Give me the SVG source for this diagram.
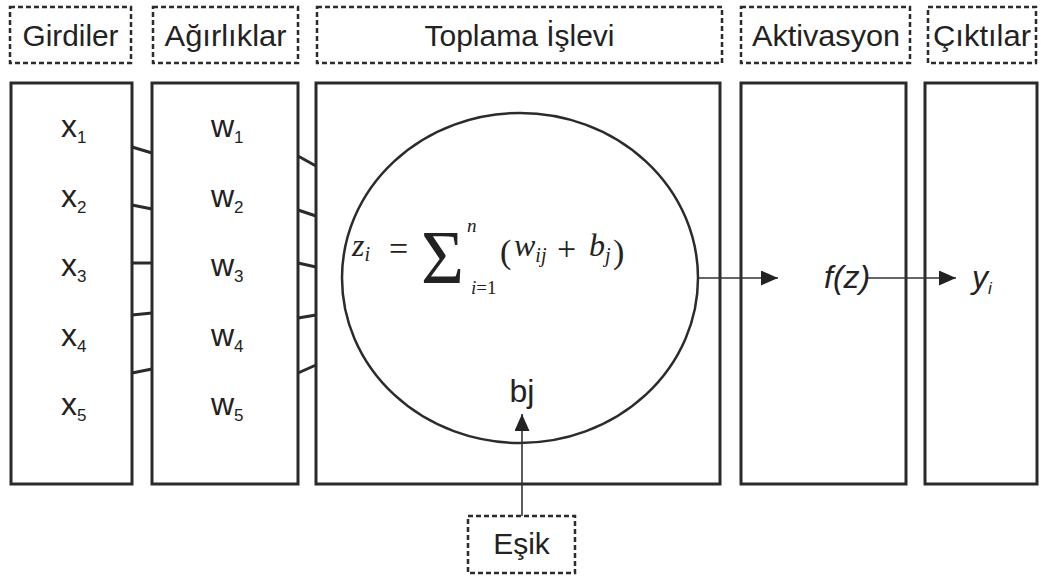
<svg xmlns="http://www.w3.org/2000/svg" width="1041" height="579" viewBox="0 0 1041 579">
<style>
.title{fill:none;stroke:#2b2b2b;stroke-width:2.5;stroke-dasharray:5 3}
.box{fill:none;stroke:#2b2b2b;stroke-width:3}
.lbl{font-family:"Liberation Sans",Arial,sans-serif;fill:#222;font-size:30px}
.var{font-family:"Liberation Sans",Arial,sans-serif;fill:#222;font-size:32px}
.sub{font-size:17px}
.conn{stroke:#2b2b2b;stroke-width:3;fill:none}
.arr{stroke:#333;stroke-width:1.6;fill:none}
.math{font-family:"Liberation Serif","DejaVu Serif",serif;fill:#222;font-style:italic}
.mr{font-family:"Liberation Serif","DejaVu Serif",serif;fill:#222}
</style>
<defs>
<marker id="ah" viewBox="0 0 17 15" refX="17" refY="7.5" markerWidth="17" markerHeight="15" markerUnits="userSpaceOnUse" orient="auto">
<path d="M0,0 L17,7.5 L0,15 Z" fill="#222"/>
</marker>
</defs>
<rect width="1041" height="579" fill="#fff"/>

<g id="title-girdiler"><rect class="title" x="10" y="7" width="121" height="56"/><text class="lbl" x="70.5" y="46" text-anchor="middle" textLength="96" lengthAdjust="spacingAndGlyphs">Girdiler</text></g>
<g id="title-agirliklar"><rect class="title" x="153" y="7" width="145" height="56"/><text class="lbl" x="225.5" y="46" text-anchor="middle" textLength="122" lengthAdjust="spacingAndGlyphs">Ağırlıklar</text></g>
<g id="title-toplama"><rect class="title" x="317" y="7" width="405" height="56"/><text class="lbl" x="519.5" y="46" text-anchor="middle" textLength="190" lengthAdjust="spacingAndGlyphs">Toplama İşlevi</text></g>
<g id="title-aktivasyon"><rect class="title" x="741" y="7" width="169" height="56"/><text class="lbl" x="826" y="46" text-anchor="middle" textLength="148" lengthAdjust="spacingAndGlyphs">Aktivasyon</text></g>
<g id="title-ciktilar"><rect class="title" x="928" y="7" width="108" height="56"/><text class="lbl" x="982" y="46" text-anchor="middle" textLength="98" lengthAdjust="spacingAndGlyphs">Çıktılar</text></g>

<g id="girdiler">
<rect class="box" x="11" y="83" width="121" height="401"/>
<text class="var" x="61" y="137">x<tspan class="sub" dy="6">1</tspan></text>
<text class="var" x="61" y="207">x<tspan class="sub" dy="6">2</tspan></text>
<text class="var" x="61" y="276">x<tspan class="sub" dy="6">3</tspan></text>
<text class="var" x="61" y="346">x<tspan class="sub" dy="6">4</tspan></text>
<text class="var" x="61" y="415">x<tspan class="sub" dy="6">5</tspan></text>
</g>
<g id="agirliklar">
<rect class="box" x="152" y="83" width="146" height="401"/>
<text class="var" x="211" y="137">w<tspan class="sub" dy="6">1</tspan></text>
<text class="var" x="211" y="207">w<tspan class="sub" dy="6">2</tspan></text>
<text class="var" x="211" y="276">w<tspan class="sub" dy="6">3</tspan></text>
<text class="var" x="211" y="346">w<tspan class="sub" dy="6">4</tspan></text>
<text class="var" x="211" y="415">w<tspan class="sub" dy="6">5</tspan></text>
</g>
<g id="toplama">
<rect class="box" x="316" y="83" width="404" height="401"/>
<ellipse cx="520" cy="278" rx="178" ry="165" fill="none" stroke="#2b2b2b" stroke-width="2.5"/>
<text class="math" x="352" y="256" font-size="32">z<tspan font-size="20" dy="5">i</tspan></text>
<text class="mr" x="389" y="260" font-size="34">=</text>
<text class="mr" x="421" y="283" font-size="76" textLength="43" lengthAdjust="spacingAndGlyphs">Σ</text>
<text class="math" x="467" y="232" font-size="19">n</text>
<text class="math" x="471" y="294" font-size="19">i<tspan font-style="normal">=1</tspan></text>
<text class="mr" x="500" y="263" font-size="34">(</text>
<text class="math" x="514" y="256" font-size="32">w<tspan font-size="20" dy="6">ij</tspan></text>
<text class="mr" x="557" y="260" font-size="34">+</text>
<text class="math" x="589" y="256" font-size="32">b<tspan font-size="20" dy="6">j</tspan></text>
<text class="mr" x="613" y="263" font-size="34">)</text>
<text class="var" x="522" y="402" text-anchor="middle" font-size="30">bj</text>
</g>
<g id="aktivasyon">
<rect class="box" x="741" y="83" width="165" height="401"/>
<text class="var" x="824" y="288" font-style="italic" font-size="29">f(z)</text>
</g>
<g id="ciktilar">
<rect class="box" x="925" y="83" width="112" height="401"/>
<text class="var" x="972" y="288" font-style="italic" font-size="29">y<tspan class="sub" dy="6" font-size="14">i</tspan></text>
</g>
<g id="esik">
<rect class="title" x="468" y="516" width="107" height="57"/>
<text class="lbl" x="521.5" y="554" text-anchor="middle">Eşik</text>
</g>

<g id="connectors">
<line class="conn" x1="132" y1="147" x2="152" y2="153"/>
<line class="conn" x1="132" y1="205" x2="152" y2="209"/>
<line class="conn" x1="132" y1="263" x2="152" y2="263"/>
<line class="conn" x1="132" y1="315" x2="152" y2="313"/>
<line class="conn" x1="132" y1="373" x2="152" y2="369"/>
<line class="conn" x1="298" y1="156" x2="316" y2="166"/>
<line class="conn" x1="298" y1="210" x2="316" y2="216"/>
<line class="conn" x1="298" y1="263" x2="316" y2="267"/>
<line class="conn" x1="298" y1="318" x2="316" y2="315"/>
<line class="conn" x1="298" y1="373" x2="316" y2="365"/>
<line class="arr" x1="698" y1="278" x2="778" y2="278" marker-end="url(#ah)"/>
<line class="arr" x1="868" y1="278" x2="956" y2="278" marker-end="url(#ah)"/>
<line class="arr" x1="522" y1="516" x2="522" y2="414" marker-end="url(#ah)"/>
</g>
</svg>
